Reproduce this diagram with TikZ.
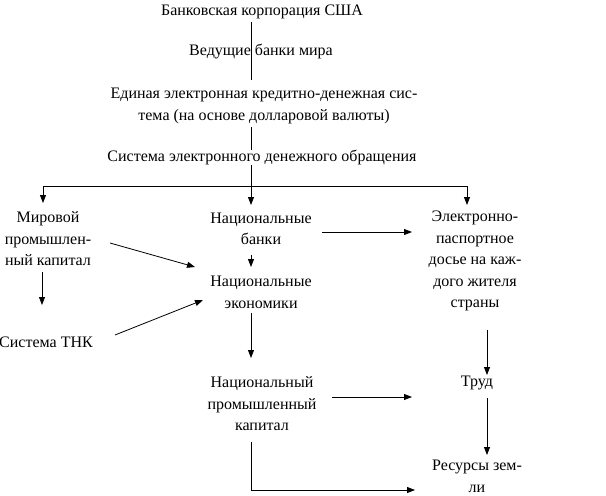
\documentclass[tikz,border=0pt]{standalone}
\usepackage{fontspec}
\setmainfont{Liberation Serif}
\usetikzlibrary{arrows.meta}
\begin{document}
\begin{tikzpicture}[x=1pt,y=-1pt,
  txt/.style={inner sep=0pt,align=center,font=\fontsize{16}{21.5}\selectfont},
  ln/.style={line width=0.8pt},
  arr/.style={ln,-{Triangle[length=8pt,width=6pt]}}]
\useasboundingbox (0,0) rectangle (606,496);
\node[txt] (bank) at (262,12) {Банковская корпорация США};
\node[txt] (lead) at (261,51) {Ведущие банки мира};
\node[txt] (edin) at (264,106) {Единая электронная кредитно-денежная сис-\\тема (на основе долларовой валюты)};
\node[txt] (sys) at (262,157) {Система электронного денежного обращения};
\node[txt] (mir) at (48,239) {Мировой\\промышлен-\\ный капитал};
\node[txt] (natb) at (261,229) {Национальные\\банки};
\node[txt] (elec) at (475,261) {Электронно-\\паспортное\\досье на каж-\\дого жителя\\страны};
\node[txt] (nate) at (261,292.5) {Национальные\\экономики};
\node[txt] (tnk) at (46,342) {Система ТНК};
\node[txt] (npk) at (262,404) {Национальный\\промышленный\\капитал};
\node[txt] (trud) at (477,383) {Труд};
\node[txt] (res) at (477,476.5) {Ресурсы зем-\\ли};
% vertical spine
\draw[ln] ([shift={(-11,10)}]bank.center) -- ([shift={(-13,-26)}]edin.center);
\draw[ln] ([shift={(-13,21)}]edin.center) -- ([shift={(-11,-7)}]sys.center);
\draw[arr] ([shift={(-11,8)}]sys.center) -- ([shift={(-10,-24)}]natb.center);
\coordinate (br) at ([shift={(-11,29)}]sys.center);
\draw[arr] (br) -| ([shift={(-5,-36)}]mir.center);
\draw[arr] (br) -| ([shift={(-8,-56)}]elec.center);
\draw[arr] ([shift={(61,3)}]natb.center) -- ([shift={(-63,-29)}]elec.center);
\draw[arr] ([shift={(62,4)}]mir.center) -- ([shift={(-66,-25.5)}]nate.center);
\draw[arr] ([shift={(-10,26)}]natb.center) -- ([shift={(-10,-25.5)}]nate.center);
\draw[arr] ([shift={(-6,33)}]mir.center) -- ([shift={(-4,-37)}]tnk.center);
\draw[arr] ([shift={(69,-7)}]tnk.center) -- ([shift={(-58,7.5)}]nate.center);
\draw[arr] ([shift={(-10,20.5)}]nate.center) -- ([shift={(-11,-46)}]npk.center);
\draw[arr] ([shift={(12,69)}]elec.center) -- ([shift={(10,-8)}]trud.center);
\draw[arr] ([shift={(70,-7)}]npk.center) -- ([shift={(-65,14)}]trud.center);
\draw[arr] ([shift={(10,15)}]trud.center) -- ([shift={(10,-21.5)}]res.center);
\draw[arr] ([shift={(-11,38)}]npk.center) |- ([shift={(-62,13.5)}]res.center);
\end{tikzpicture}
\end{document}
